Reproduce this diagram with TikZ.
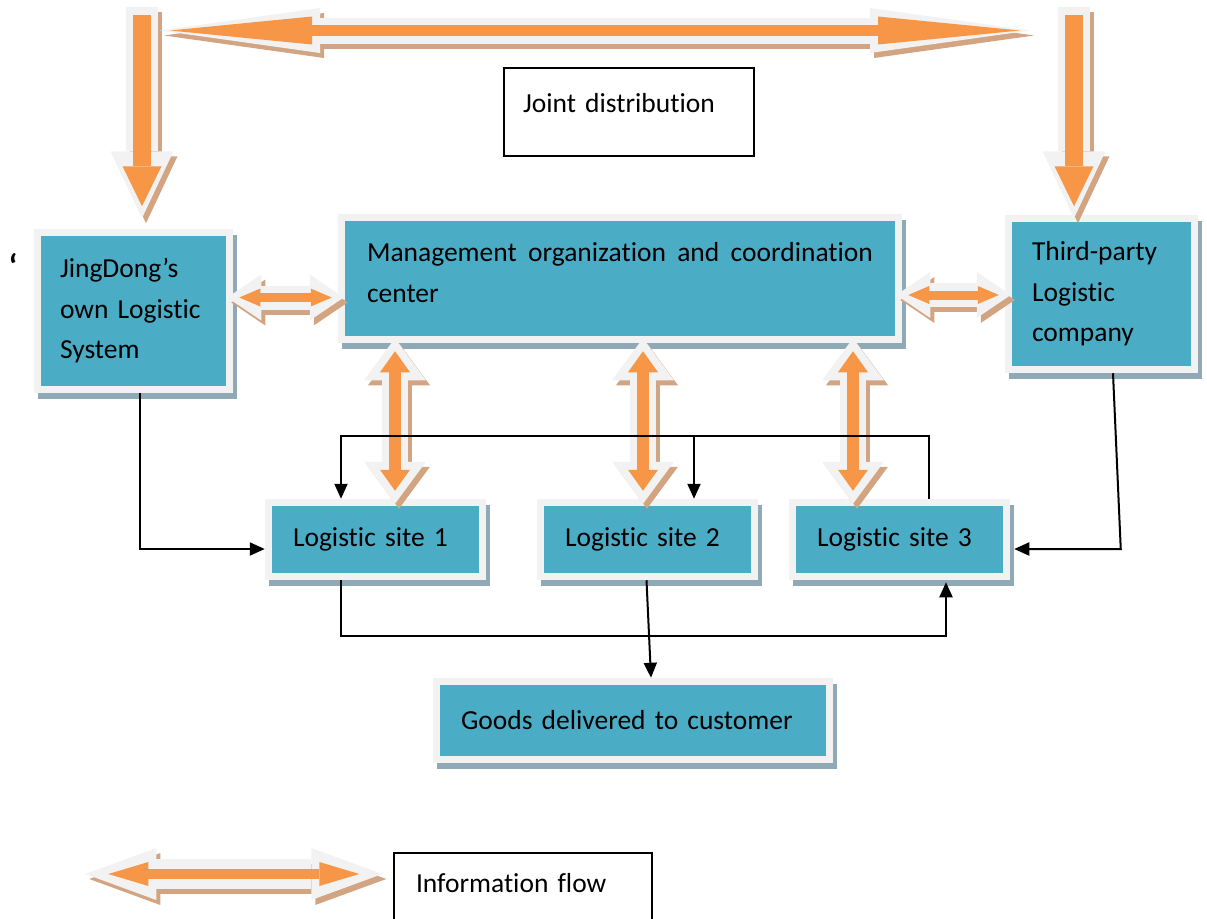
\documentclass[tikz,border=0pt]{standalone}
\usepackage{fontspec}
\setmainfont[Ligatures=NoCommon]{Carlito}
\usepackage{tikz}
\usetikzlibrary{calc,arrows.meta}

\definecolor{boxblue}{HTML}{4BACC6}
\definecolor{boxrim}{HTML}{F2F2F2}
\definecolor{boxshade}{HTML}{8FAAB6}
\definecolor{floworange}{HTML}{F79646}
\definecolor{flowshade}{HTML}{D3A482}

\begin{document}
\begin{tikzpicture}[x=1pt,y=-1pt]

\tikzset{bluebox/.style={fill=boxblue,draw=boxrim,line width=7.5pt,inner ysep=0pt,align=left,
    font=\fontsize{27.5}{40.5}\selectfont,
    preaction={fill=boxshade,draw=boxshade,transform canvas={shift={(4,6)}}}},
  textbox/.style={draw,fill=white,line width=1.4pt,inner ysep=0pt,align=left,
    font=\fontsize{27.5}{40.5}\selectfont},
  link/.style={line width=2pt,-{Triangle[length=15pt,width=13pt]}},
  flowcore/.style={draw=floworange},
  flowrim/.style={draw=boxrim},
  flowshadow/.style={draw=flowshade,transform canvas={shift={(4,5)}}},
  midcore/.style={line width=12pt,shorten <=8pt,shorten >=8pt,
    {Triangle[width=30pt,length=21pt,line width=0pt]}-{Triangle[width=30pt,length=21pt,line width=0pt]}},
  midrim/.style={line width=26pt,shorten <=-5pt,shorten >=-5pt,
    {Triangle[width=62pt,length=42pt,line width=0pt]}-{Triangle[width=62pt,length=42pt,line width=0pt]}},
  sidecore/.style={line width=9pt,shorten <=6pt,shorten >=6pt,
    {Triangle[width=18pt,length=21pt,line width=0pt]}-{Triangle[width=18pt,length=21pt,line width=0pt]}},
  siderim/.style={line width=24pt,shorten <=-6pt,shorten >=-6pt,
    {Triangle[width=46pt,length=34pt,line width=0pt]}-{Triangle[width=46pt,length=34pt,line width=0pt]}},
  topcore/.style={line width=11pt,
    {Triangle[width=28pt,length=142pt,line width=0pt]}-{Triangle[width=28pt,length=142pt,line width=0pt]}},
  toprim/.style={line width=26pt,shorten <=-10pt,shorten >=-10pt,
    {Triangle[width=45pt,length=160pt,line width=0pt]}-{Triangle[width=45pt,length=160pt,line width=0pt]}},
  downcore/.style={line width=18pt,shorten >=8.5pt,-{Triangle[width=39pt,length=40pt,line width=0pt]}},
  downrim/.style={line width=32pt,shorten <=-8pt,shorten >=-3.5pt,-{Triangle[width=63pt,length=67pt,line width=0pt]}},
  keycore/.style={line width=10pt,
    {Triangle[width=24pt,length=40pt,line width=0pt]}-{Triangle[width=24pt,length=40pt,line width=0pt]}},
  keyrim/.style={line width=30pt,shorten <=-23pt,shorten >=-23pt,
    {Triangle[width=52pt,length=71pt,line width=0pt]}-{Triangle[width=52pt,length=71pt,line width=0pt]}}}

\useasboundingbox (0,0) rectangle (1207,918);

% Boxes
\node[bluebox,text width=147pt,inner xsep=22.5pt,minimum height=157pt] (jd) at (133.5,311) {JingDong’s\\own Logistic\\System};
\node[bluebox,text width=506pt,inner xsep=25.5pt,minimum height=122pt,align=justify] (mgmt) at (620,278.5) {Management organization and coordination center\strut};
\node[bluebox,text width=139pt,inner xsep=23.5pt,minimum height=151pt] (tp) at (1101.5,294) {Third-party\\Logistic\\company};
\foreach \n/\x/\lab in {site1/375.5/1, site2/647.5/2, site3/899.5/3}
  \node[bluebox,text width=165pt,inner xsep=24.5pt,minimum height=74pt] (\n) at (\x,539.5) {Logistic site \lab};
\node[bluebox,text width=344pt,inner xsep=24.5pt,minimum height=78pt] (goods) at (633,720.5) {Goods delivered to customer};

% Text boxes
\node[textbox,text width=212pt,inner xsep=19pt,minimum height=88pt,text height=19pt,text depth=19pt] (joint) at (629,112) {Joint distribution};
\node[textbox,text width=214pt,inner xsep=22pt,minimum height=88pt,text height=14pt,text depth=24pt] (legend) at (523,897) {Information flow};
\node[font=\fontsize{34}{40.5}\selectfont\bfseries,anchor=base] (mark) at (13,278) {‘};

% Information flow arrows
\coordinate (jdtop) at (142,15);
\coordinate (tptop) at (1074,15);
\coordinate (c1) at ($(site1.north)+(19.5,0)$);
\coordinate (c2) at ($(site2.north)+(-4.5,0)$);
\coordinate (c3) at ($(site3.north)+(-46.5,0)$);
\foreach \lay/\kind in {flowshadow/rim, flowrim/rim, flowcore/core} {
  \draw[\lay,top\kind] ($(jdtop)+(28,15.5)$) -- ($(tptop)+(-54,15.5)$);
  \draw[\lay,down\kind] (jdtop) -- ($(jdtop |- jd.north)+(0,-14)$);
  \draw[\lay,down\kind] (tptop) -- (tptop |- tp.north);
  \foreach \c in {c1,c2,c3}
    \draw[\lay,mid\kind] (\c |- mgmt.south) -- (\c);
  \draw[\lay,side\kind] ($(jd.east)+(0,-13.5)$) -- ($(mgmt.west)+(0,19)$);
  \draw[\lay,side\kind] ($(mgmt.east)+(0,16.5)$) -- ($(tp.west)+(0,1)$);
  \draw[\lay,key\kind] ($(legend.west)+(-285,-23)$) -- ($(legend.west)+(-34,-23)$);
}

%% Edges
\draw[link] ($(jd.south)+(6.5,0)$) |- ($(site1.west)+(0,9.5)$);
\draw[link] ($(site3.north)+(29.5,0)$) |- ($(site1.north)+(-34.5,-62.5)$) -- ($(site1.north)+(-34.5,0)$);
\draw[link] ($(site2.north)+(46.5,-62.5)$) -- ($(site2.north)+(46.5,0)$);
\draw[link] ($(tp.south)+(11.5,0)$) -- ($(site3.east)+(110.5,9.5)$) -- ($(site3.east)+(4,9.5)$);
\draw[link] ($(site1.south)+(-34.5,0)$) |- ($(site3.south)+(46.5,55.5)$) -- ($(site3.south)+(46.5,2)$);
\draw[link] ($(site2.south)+(-1,0)$) -- ($(goods.north)+(18,0)$);
\end{tikzpicture}
\end{document}
